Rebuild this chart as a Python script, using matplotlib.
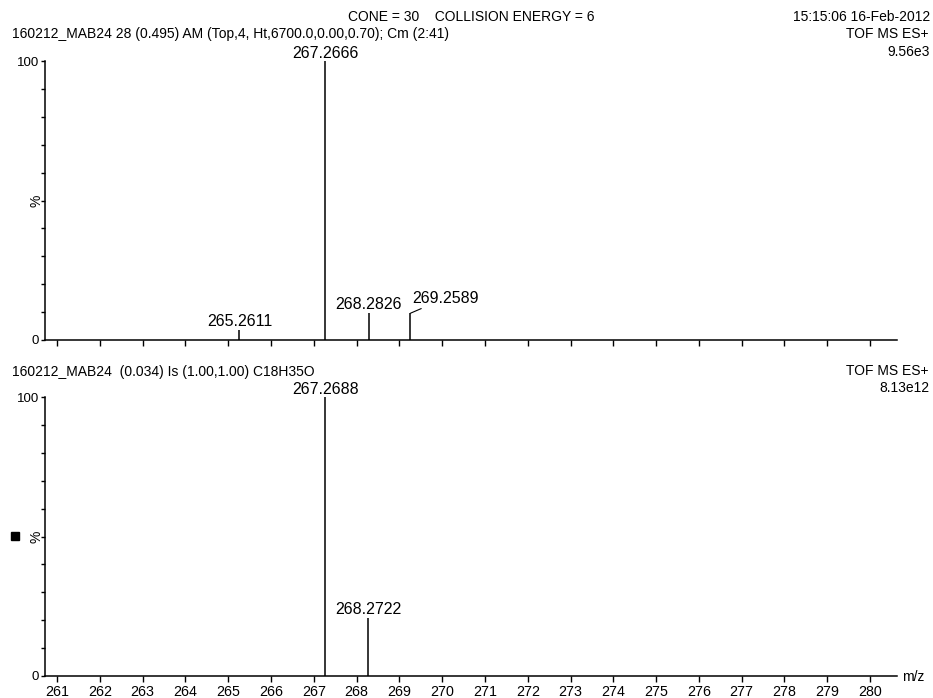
import matplotlib
matplotlib.use("Agg")
import matplotlib.pyplot as plt
from matplotlib.patches import Rectangle

plt.rcParams['font.family'] = ['Liberation Sans', 'DejaVu Sans']

# Data
top_mz = [265.2611, 267.2666, 268.2826, 269.2589]
top_int = [3.6, 100.0, 9.8, 9.6]
top_labels = ["265.2611", "267.2666", "268.2826", "269.2589"]

bot_mz = [267.2688, 268.2722]
bot_int = [100.0, 20.8]
bot_labels = ["267.2688", "268.2722"]

xticks = list(range(261, 281))
yticks = list(range(0, 101, 10))

W, H = 933, 698
fig = plt.figure(figsize=(W / 100, H / 100), dpi=100)

def px_axes(x0, x1, ytop, ybot):
    return fig.add_axes([x0 / W, 1 - ybot / H, (x1 - x0) / W, (ybot - ytop) / H])

ax1 = px_axes(44.7, 897, 61, 340)
ax2 = px_axes(44.7, 897, 397, 676)

for ax in (ax1, ax2):
    ax.set_xlim(260.71, 280.63)
    ax.set_ylim(0, 100)
    for s in ('top', 'right'):
        ax.spines[s].set_visible(False)
    ax.spines['left'].set_linewidth(1.1)
    ax.spines['bottom'].set_linewidth(1.1)
    ax.set_xticks(xticks)
    ax.set_yticks(yticks)
    ax.set_yticklabels(["0" if v == 0 else ("100" if v == 100 else "") for v in yticks])
    ax.tick_params(axis='y', direction='out', length=3.2, width=1, pad=1, labelsize=9.5)
    ax.tick_params(axis='x', direction='out', length=4.5, width=1, pad=2, labelsize=10.3)
    ax.set_ylabel("%", fontsize=10, labelpad=4)
    ax.yaxis.set_label_coords(-0.0012, 0.5)

ax1.set_xticklabels([])
ax2.set_xticklabels([str(v) for v in xticks])

ax1.vlines(top_mz, 0, top_int, colors='black', linewidth=1.1)
ax2.vlines(bot_mz, 0, bot_int, colors='black', linewidth=1.1)

lab_fs = 11.5
for mz, it, lab in zip(top_mz, top_int, top_labels):
    if lab == "269.2589":
        ax1.annotate(lab, xy=(mz, it), xytext=(1, 7.5), textcoords='offset points',
                     ha='left', va='baseline', fontsize=lab_fs,
                     arrowprops=dict(arrowstyle='-', color='black', lw=0.8,
                                     shrinkA=0, shrinkB=0))
    else:
        ax1.annotate(lab, xy=(mz, it), xytext=(0, 2.5), textcoords='offset points',
                     ha='center', va='baseline', fontsize=lab_fs)
for mz, it, lab in zip(bot_mz, bot_int, bot_labels):
    ax2.annotate(lab, xy=(mz, it), xytext=(0, 2.5), textcoords='offset points',
                 ha='center', va='baseline', fontsize=lab_fs)

hfs = 10
def ftxt(x, y, s, ha='left', fs=hfs):
    fig.text(x / W, 1 - y / H, s, ha=ha, va='center', fontsize=fs)

ftxt(348, 17, "CONE = 30    COLLISION ENERGY = 6")
ftxt(930, 17, "15:15:06 16-Feb-2012", ha='right')
ftxt(12, 34, "160212_MAB24 28 (0.495) AM (Top,4, Ht,6700.0,0.00,0.70); Cm (2:41)")
ftxt(928, 34, "TOF MS ES+", ha='right')
ftxt(930, 52, "9.56e3", ha='right')
ftxt(12, 372, "160212_MAB24  (0.034) Is (1.00,1.00) C18H35O")
ftxt(928, 371, "TOF MS ES+", ha='right')
ftxt(930, 388, "8.13e12", ha='right')
ftxt(902, 677, "m/z", fs=10)

fig.patches.append(Rectangle((11 / W, 1 - 540 / H), 8 / W, 8 / H,
                             transform=fig.transFigure, color='black'))

fig.savefig("out.png", dpi=100)
